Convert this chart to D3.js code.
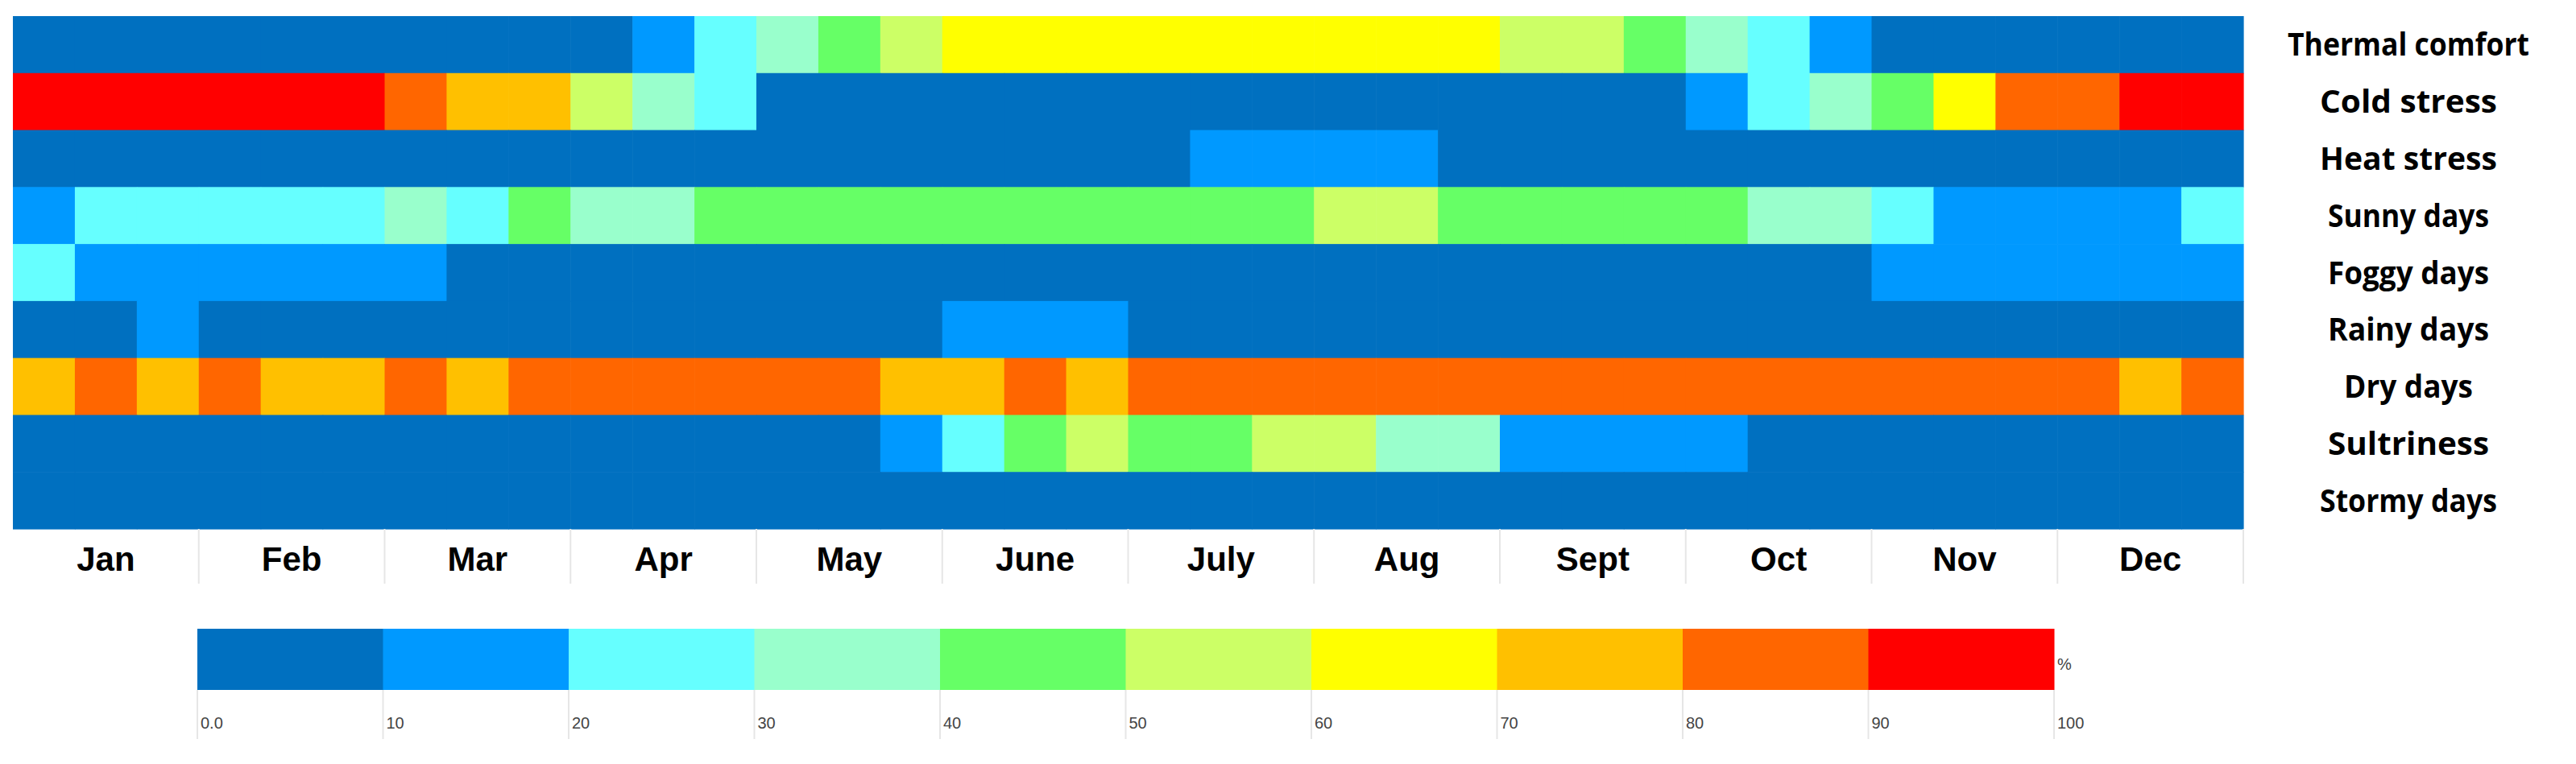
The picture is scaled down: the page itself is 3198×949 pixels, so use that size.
<!DOCTYPE html>
<html>
<head>
<meta charset="utf-8">
<script src="https://cdn.jsdelivr.net/npm/d3@7"></script>
<style>
  body { margin: 0; background: #fff; }
</style>
</head>
<body>
<div id="chart-area"></div>
<script>
// DATA -----------------------------------------------------------
var months = ["Jan", "Feb", "Mar", "Apr", "May", "June", "July", "Aug", "Sept", "Oct", "Nov", "Dec"];
var decades = [1, 2, 3];
var rows = ["Thermal comfort", "Cold stress", "Heat stress", "Sunny days", "Foggy days",
            "Rainy days", "Dry days", "Sultriness", "Stormy days"];

// percent class (lower bound of the 10% bin), 36 decades per row
var thermalComfort = [0,0,0,0,0,0,0,0,0,0, 10,20,30,40,50, 60,60,60,60,60,60,60,60,60, 50,50,40,30,20,10, 0,0,0,0,0,0];
var coldStress     = [90,90,90,90,90,90, 80,70,70,50,30,20, 0,0,0,0,0,0,0,0,0,0,0,0,0,0,0, 10,20,30,40,60,80,80,90,90];
var heatStress     = [0,0,0,0,0,0,0,0,0,0,0,0,0,0,0,0,0,0,0, 10,10,10,10, 0,0,0,0,0,0,0,0,0,0,0,0,0];
var sunnyDays      = [10,20,20,20,20,20,30,20,40,30,30, 40,40,40,40,40,40,40,40,40,40, 50,50, 40,40,40,40,40, 30,30,20,10,10,10,10,20];
var foggyDays      = [20,10,10,10,10,10,10, 0,0,0,0,0,0,0,0,0,0,0,0,0,0,0,0,0,0,0,0,0,0,0, 10,10,10,10,10,10];
var rainyDays      = [0,0,10,0,0,0,0,0,0,0,0,0,0,0,0, 10,10,10, 0,0,0,0,0,0,0,0,0,0,0,0,0,0,0,0,0,0];
var dryDays        = [70,80,70,80,70,70,80,70, 80,80,80,80,80,80, 70,70,80,70, 80,80,80,80,80,80,80,80,80,80,80,80,80,80,80,80, 70,80];
var sultriness     = [0,0,0,0,0,0,0,0,0,0,0,0,0,0, 10,20,40,50,40,40,50,50,30,30, 10,10,10,10, 0,0,0,0,0,0,0,0];
var stormyDays     = [0,0,0,0,0,0,0,0,0,0,0,0,0,0,0,0,0,0,0,0,0,0,0,0,0,0,0,0,0,0,0,0,0,0,0,0];
var series = [thermalComfort, coldStress, heatStress, sunnyDays, foggyDays, rainyDays, dryDays, sultriness, stormyDays];

var legendTicks = [0, 10, 20, 30, 40, 50, 60, 70, 80, 90, 100];
var palette = ["#0070C0", "#0099FF", "#66FFFF", "#99FFCC", "#66FF66", "#CCFF66", "#FFFF00", "#FFC000", "#FF6600", "#FF0000"];

// LAYOUT ---------------------------------------------------------
var W = 3198, H = 949;
var gLeft = 16, gRight = 2785, gTop = 20, gBottom = 657;

var svg = d3.select("#chart-area").append("svg")
    .attr("width", W)
    .attr("height", H);

// SCALES ---------------------------------------------------------
var cols = [];
months.forEach(function(m) { decades.forEach(function(d) { cols.push(m + "-" + d); }); });

var x = d3.scaleBand().domain(cols).range([gLeft, gRight]);
var xMonth = d3.scaleBand().domain(months).range([gLeft, gRight]);
var y = d3.scaleBand().domain(rows).range([gTop, gBottom]);
var color = d3.scaleThreshold()
    .domain([10, 20, 30, 40, 50, 60, 70, 80, 90])
    .range(palette);

// CELLS ----------------------------------------------------------
var cells = [];
series.forEach(function(vals, r) {
    vals.forEach(function(v, c) { cells.push({ row: rows[r], col: cols[c], value: v }); });
});

svg.append("g").selectAll("rect")
    .data(cells)
    .enter().append("rect")
    .attr("x", function(d) { return x(d.col); })
    .attr("y", function(d) { return y(d.row); })
    .attr("width", x.bandwidth() + 0.6)
    .attr("height", y.bandwidth() + 0.6)
    .attr("fill", function(d) { return color(d.value); });

// ROW LABELS -----------------------------------------------------
svg.append("g").selectAll("text")
    .data(rows)
    .enter().append("text")
    .attr("x", 2990)
    .attr("y", function(d) { return y(d) + y.bandwidth() / 2; })
    .attr("dy", "0.35em")
    .attr("text-anchor", "middle")
    .attr("font-family", "Open Sans, sans-serif")
    .attr("font-weight", "bold")
    .attr("font-size", "40px")
    .attr("textLength", function(d) { return d.length * 20; })
    .attr("lengthAdjust", "spacingAndGlyphs")
    .text(function(d) { return d; });

// MONTH AXIS -----------------------------------------------------
var monthG = svg.append("g");
monthG.selectAll("line")
    .data(months.slice(1).concat(["end"]))
    .enter().append("line")
    .attr("x1", function(d) { return d === "end" ? gRight : xMonth(d); })
    .attr("x2", function(d) { return d === "end" ? gRight : xMonth(d); })
    .attr("y1", gBottom)
    .attr("y2", 725)
    .attr("stroke", "#e6e6e6")
    .attr("stroke-width", 2);
monthG.selectAll("text")
    .data(months)
    .enter().append("text")
    .attr("x", function(d) { return xMonth(d) + xMonth.bandwidth() / 2; })
    .attr("y", 694)
    .attr("dy", "0.35em")
    .attr("text-anchor", "middle")
    .attr("font-family", "Liberation Sans, Arial, sans-serif")
    .attr("font-weight", "bold")
    .attr("font-size", "42px")
    .text(function(d) { return d; });

// LEGEND ---------------------------------------------------------
var lx = d3.scaleLinear().domain([0, 100]).range([245, 2550]);
var lg = svg.append("g");
lg.selectAll("rect")
    .data(legendTicks.slice(0, -1))
    .enter().append("rect")
    .attr("x", function(d) { return lx(d); })
    .attr("y", 781)
    .attr("width", lx(10) - lx(0) + 0.5)
    .attr("height", 76)
    .attr("fill", function(d) { return color(d); });
lg.selectAll("line")
    .data(legendTicks)
    .enter().append("line")
    .attr("x1", function(d) { return lx(d); })
    .attr("x2", function(d) { return lx(d); })
    .attr("y1", 857)
    .attr("y2", 918)
    .attr("stroke", "#e6e6e6")
    .attr("stroke-width", 2);
lg.selectAll("text")
    .data(legendTicks)
    .enter().append("text")
    .attr("x", function(d) { return lx(d) + 4; })
    .attr("y", 898)
    .attr("dy", "0.35em")
    .attr("font-family", "Liberation Sans Narrow, Arial, sans-serif")
    .attr("font-size", "20px")
    .attr("fill", "#444")
    .text(function(d) { return d === 0 ? "0.0" : d; });
lg.append("text")
    .attr("x", lx(100) + 4)
    .attr("y", 825)
    .attr("dy", "0.35em")
    .attr("font-family", "Liberation Sans Narrow, Arial, sans-serif")
    .attr("font-size", "20px")
    .attr("fill", "#444")
    .text("%");
</script>
</body>
</html>
